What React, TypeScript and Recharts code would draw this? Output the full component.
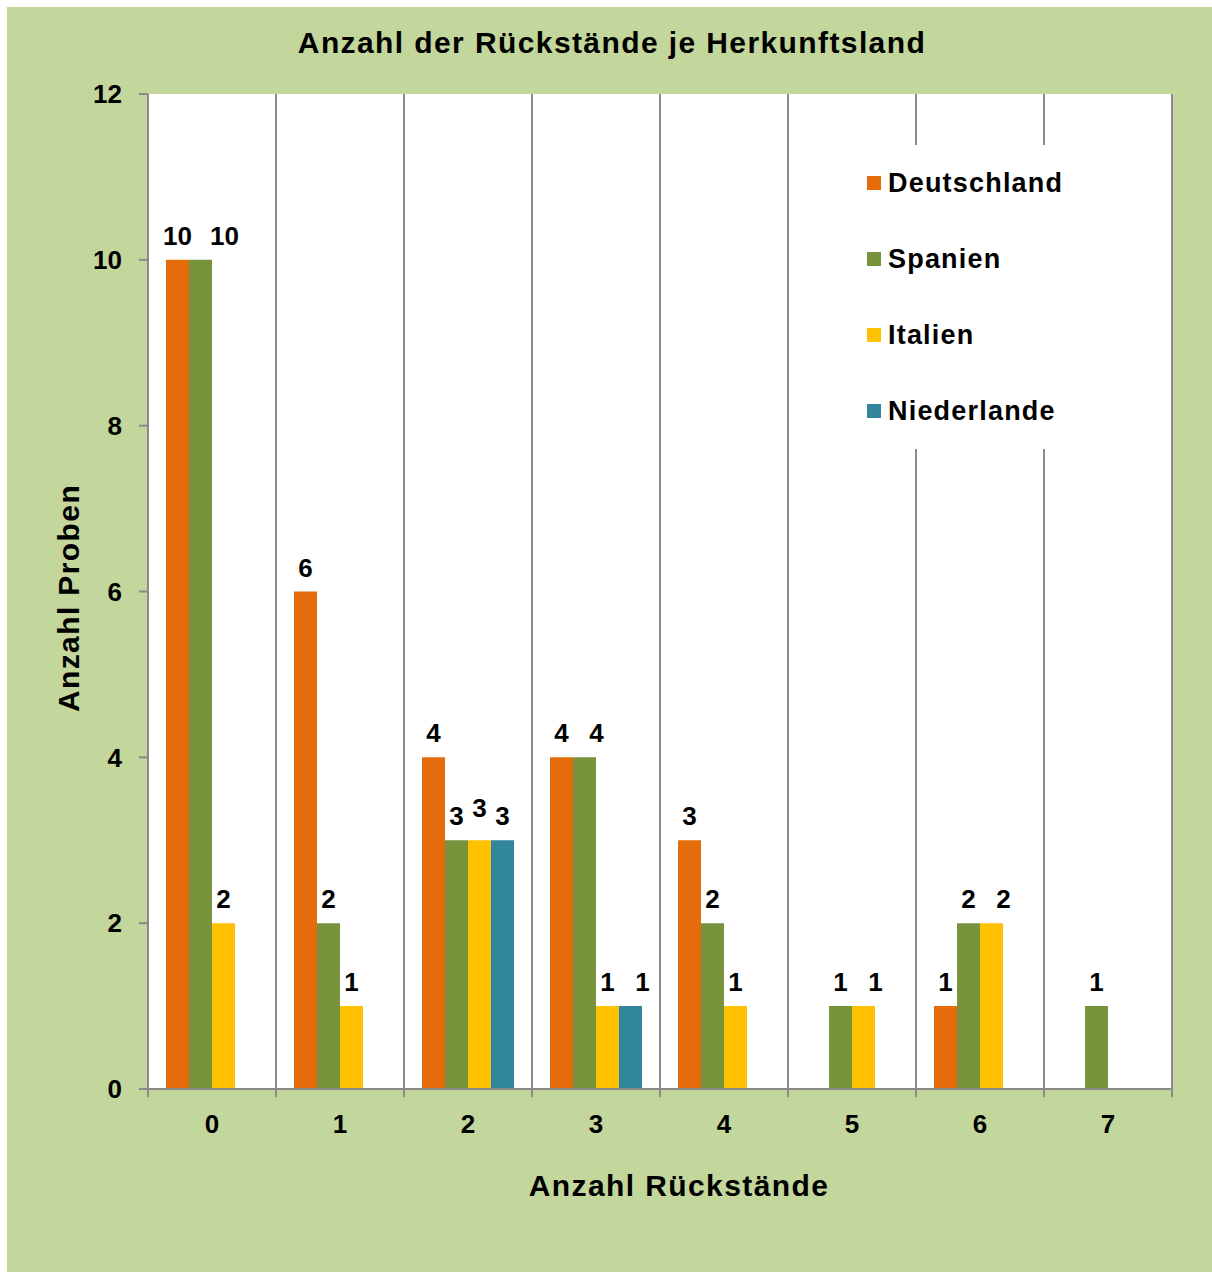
import { BarChart, Bar, XAxis, YAxis, CartesianGrid, Legend, LabelList, Customized } from 'recharts'

const categories = ['0', '1', '2', '3', '4', '5', '6', '7']
const deutschland = [10, 6, 4, 4, 3, 0, 1, 0]
const spanien = [10, 2, 3, 4, 2, 1, 2, 1]
const italien = [2, 1, 3, 1, 1, 1, 2, 0]
const niederlande = [0, 0, 3, 1, 0, 0, 0, 0]
const yTicks = [0, 2, 4, 6, 8, 10, 12]

const seriesList = [
  { key: 'Deutschland', values: deutschland, color: '#E46C0A' },
  { key: 'Spanien', values: spanien, color: '#77933C' },
  { key: 'Italien', values: italien, color: '#FFC000' },
  { key: 'Niederlande', values: niederlande, color: '#31859C' },
]

const data = categories.map((name, i) => {
  const row: Record<string, string | number> = { name }
  seriesList.forEach(s => { row[s.key] = s.values[i] })
  return row
})

const FONT = '"Liberation Sans", Arial, sans-serif'
const GRID = '#8a8a8a'
const W = 1205
const H = 1265
const margin = { top: 87, right: 40, bottom: 153, left: 81 }
const Y_AXIS_W = 60
const X_AXIS_H = 30
const band = (W - margin.left - margin.right - Y_AXIS_W) / categories.length

// labels of equal neighbours get nudged apart, like the original
const makeLabel = (si: number) => (props: any) => {
  const { x, y, width, value, index } = props
  if (!value) return null
  const vals = seriesList.map(s => s.values[index])
  const prev = si > 0 ? vals[si - 1] : null
  const prev2 = si > 1 ? vals[si - 2] : null
  const next = si < vals.length - 1 ? vals[si + 1] : null
  let dx = 0
  let dy = 0
  if (prev === value && next === value) dy = -8
  else if (prev === value && prev2 !== value) dx = String(value).length * 12
  return (
    <text x={Number(x) + Number(width) / 2 + dx} y={Number(y) - 15 + dy} textAnchor="middle"
      fill="#000" fontSize={26} fontWeight={700} fontFamily={FONT}>
      {value}
    </text>
  )
}

const XTick = (props: any) => {
  const { x, y, payload, index } = props
  return (
    <g>
      <line x1={x - band / 2} x2={x - band / 2} y1={y} y2={y + 8} stroke={GRID} strokeWidth={2} />
      {index === categories.length - 1 && (
        <line x1={x + band / 2} x2={x + band / 2} y1={y} y2={y + 8} stroke={GRID} strokeWidth={2} />
      )}
      <text x={x} y={y + 44} textAnchor="middle" fill="#000" fontSize={26} fontWeight={700} fontFamily={FONT}>
        {payload.value}
      </text>
    </g>
  )
}

// keep the series order of the original legend
const LegendBox = () => (
  <div style={{ fontFamily: FONT }}>
    {seriesList.map(s => (
      <div key={s.key} style={{ height: 76, display: 'flex', alignItems: 'center' }}>
        <span style={{ width: 14, height: 14, background: s.color, marginLeft: 10, marginRight: 7 }} />
        <span style={{ fontSize: 27, fontWeight: 700, letterSpacing: 1.2, color: '#000' }}>{s.key}</span>
      </div>
    ))}
  </div>
)

const Texts = () => (
  <g fontFamily={FONT} fontWeight={700} fill="#000" fontSize={30} letterSpacing={1.4}>
    <text x={605} y={46} textAnchor="middle">Anzahl der Rückstände je Herkunftsland</text>
    <text x={672} y={1189} textAnchor="middle">Anzahl Rückstände</text>
    <text x={72} y={591} textAnchor="middle" transform="rotate(-90, 72, 591)">Anzahl Proben</text>
  </g>
)

export default function App() {
  return (
    <div style={{ position: 'absolute', left: 7, top: 7, width: W, height: H, background: '#C3D69B' }}>
      <BarChart width={W} height={H} data={data} margin={margin} barCategoryGap={18} barGap={0}>
        <CartesianGrid
          horizontal={false}
          fill="#fff"
          stroke={GRID}
          strokeWidth={2}
          verticalCoordinatesGenerator={({ offset }: any) =>
            categories.map((_, i) => offset.left + (i + 1) * offset.width / categories.length)}
        />
        <XAxis dataKey="name" height={X_AXIS_H} tickSize={0} tickMargin={0} tickLine={false}
          axisLine={{ stroke: GRID, strokeWidth: 2 }} tick={<XTick />} interval={0} />
        <YAxis width={Y_AXIS_W} domain={[0, 12]} ticks={yTicks} tickSize={9} tickMargin={17}
          axisLine={{ stroke: GRID, strokeWidth: 2 }} tickLine={{ stroke: GRID, strokeWidth: 2 }}
          tick={{ fill: '#000', fontSize: 26, fontWeight: 700, fontFamily: FONT }} />
        {seriesList.map((s, si) => (
          <Bar key={s.key} dataKey={s.key} fill={s.color} isAnimationActive={false}>
            <LabelList dataKey={s.key} content={makeLabel(si)} />
          </Bar>
        ))}
        <Legend layout="vertical" align="center" verticalAlign="middle" content={<LegendBox />}
          wrapperStyle={{ position: 'absolute', left: 850, top: 138, width: 220, height: 304, background: '#fff' }} />
        <Customized component={Texts} />
      </BarChart>
    </div>
  )
}
